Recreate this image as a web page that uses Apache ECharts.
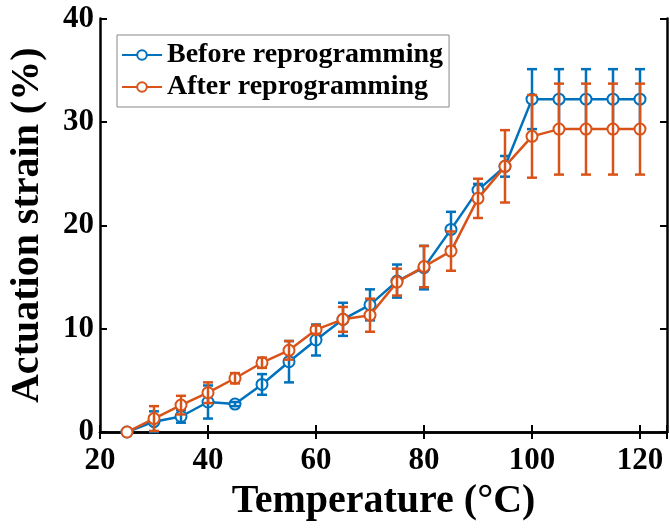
<!DOCTYPE html>
<html>
<head>
<meta charset="utf-8">
<script src="https://cdn.jsdelivr.net/npm/echarts/dist/echarts.min.js"></script>
<style>
  html, body { margin: 0; padding: 0; background: #fff; }
  #chartContainer { width: 670px; height: 529px; }
</style>
</head>
<body>
<div id="chartContainer"></div>
<script>
// temperatures (°C)
var temps = [25, 30, 35, 40, 45, 50, 55, 60, 65, 70, 75, 80, 85, 90, 95, 100, 105, 110, 115, 120];
// actuation strain (%) and error bars
var beforeMean = [0, 1.0, 1.5, 2.9, 2.7, 4.6, 6.8, 8.9, 10.9, 12.3, 14.6, 15.9, 19.6, 23.4, 25.7, 32.2, 32.2, 32.2, 32.2, 32.2];
var beforeErr  = [0, 1.0, 0.6, 1.6, 0.2, 1.0, 2.0, 1.5, 1.6, 1.5, 1.6, 2.1, 1.7, 0.6, 1.0, 2.9, 2.9, 2.9, 2.9, 2.9];
var afterMean  = [0, 1.3, 2.6, 3.8, 5.2, 6.7, 7.9, 9.9, 10.9, 11.3, 14.5, 16.0, 17.5, 22.6, 25.7, 28.6, 29.3, 29.3, 29.3, 29.3];
var afterErr   = [0, 1.2, 0.9, 1.0, 0.5, 0.5, 0.9, 0.4, 1.2, 1.6, 1.3, 2.0, 1.9, 1.9, 3.5, 4.0, 4.4, 4.4, 4.4, 4.4];

var blue = '#0072BD', orange = '#D95319';
var font = 'Liberation Serif, Times New Roman, serif';

function pairs(xs, ys) {
    var out = [];
    for (var i = 0; i < xs.length; i++) out.push([xs[i], ys[i]]);
    return out;
}
function triples(xs, ys, es) {
    var out = [];
    for (var i = 0; i < xs.length; i++) out.push([xs[i], ys[i], es[i]]);
    return out;
}

// vertical error bar with caps
function errorBar(color) {
    return function (params, api) {
        var x = api.value(0), y = api.value(1), e = api.value(2);
        if (!e) return null;
        var top = api.coord([x, y + e]);
        var bot = api.coord([x, y - e]);
        var hw = 5;
        var st = { stroke: color, lineWidth: 2.5 };
        return {
            type: 'group',
            children: [
                { type: 'line', shape: { x1: top[0], y1: top[1], x2: bot[0], y2: bot[1] }, style: st },
                { type: 'line', shape: { x1: top[0] - hw, y1: top[1], x2: top[0] + hw, y2: top[1] }, style: st },
                { type: 'line', shape: { x1: bot[0] - hw, y1: bot[1], x2: bot[0] + hw, y2: bot[1] }, style: st }
            ]
        };
    };
}

var chart = echarts.init(document.getElementById('chartContainer'));

var labelStyle = { fontFamily: font, fontWeight: 'bold', fontSize: 31, color: '#000' };
var frameLine = { show: true, lineStyle: { color: '#000', width: 2.5 } };
var innerTick = { show: true, inside: true, length: 7, lineStyle: { color: '#000', width: 2 } };

var option = {
    backgroundColor: '#fff',
    animation: false,
    grid: { left: 97.5, top: 18.5, right: 2, bottom: 97 },
    legend: {
        orient: 'vertical',
        left: 117,
        top: 35,
        data: ['Before reprogramming', 'After reprogramming'],
        itemWidth: 40,
        itemHeight: 12,
        itemGap: 2,
        padding: [5, 6, 5, 4],
        borderColor: '#888',
        borderWidth: 1,
        backgroundColor: '#fff',
        textStyle: { fontFamily: font, fontWeight: 'bold', fontSize: 28, color: '#000', lineHeight: 30 }
    },
    xAxis: [{
        type: 'value',
        min: 20, max: 125, interval: 20,
        name: 'Temperature (°C)',
        nameLocation: 'middle',
        nameGap: 50,
        nameTextStyle: { fontFamily: font, fontWeight: 'bold', fontSize: 40, color: '#000' },
        axisLine: frameLine,
        axisTick: innerTick,
        axisLabel: Object.assign({ margin: 13, formatter: function (v) { return v % 20 === 0 ? v : ''; } }, labelStyle),
        splitLine: { show: false }
    }, {
        type: 'value', position: 'top',
        min: 20, max: 125, interval: 20,
        axisLine: frameLine,
        axisTick: innerTick,
        axisLabel: { show: false },
        splitLine: { show: false }
    }],
    yAxis: [{
        type: 'value',
        min: 0, max: 40, interval: 10,
        name: 'Actuation strain (%)',
        nameLocation: 'middle',
        nameGap: 52,
        nameTextStyle: { fontFamily: font, fontWeight: 'bold', fontSize: 40, color: '#000' },
        axisLine: frameLine,
        axisTick: innerTick,
        axisLabel: Object.assign({ margin: 6 }, labelStyle),
        splitLine: { show: false }
    }, {
        type: 'value', position: 'right',
        min: 0, max: 40, interval: 10,
        axisLine: frameLine,
        axisTick: innerTick,
        axisLabel: { show: false },
        splitLine: { show: false }
    }],
    series: [
        {
            name: 'Before reprogramming',
            type: 'line',
            data: pairs(temps, beforeMean),
            symbol: 'emptyCircle',
            symbolSize: 11,
            showAllSymbol: true,
            color: blue,
            lineStyle: { width: 2.5, color: blue },
            itemStyle: { color: blue, borderWidth: 2.2 },
            z: 2
        },
        {
            name: 'Before err',
            type: 'custom',
            renderItem: errorBar(blue),
            encode: { x: 0, y: 1 },
            data: triples(temps, beforeMean, beforeErr),
            z: 3
        },
        {
            name: 'After reprogramming',
            type: 'line',
            data: pairs(temps, afterMean),
            symbol: 'emptyCircle',
            symbolSize: 11,
            showAllSymbol: true,
            color: orange,
            lineStyle: { width: 2.5, color: orange },
            itemStyle: { color: orange, borderWidth: 2.2 },
            z: 4
        },
        {
            name: 'After err',
            type: 'custom',
            renderItem: errorBar(orange),
            encode: { x: 0, y: 1 },
            data: triples(temps, afterMean, afterErr),
            z: 5
        }
    ]
};

chart.setOption(option);
</script>
</body>
</html>
